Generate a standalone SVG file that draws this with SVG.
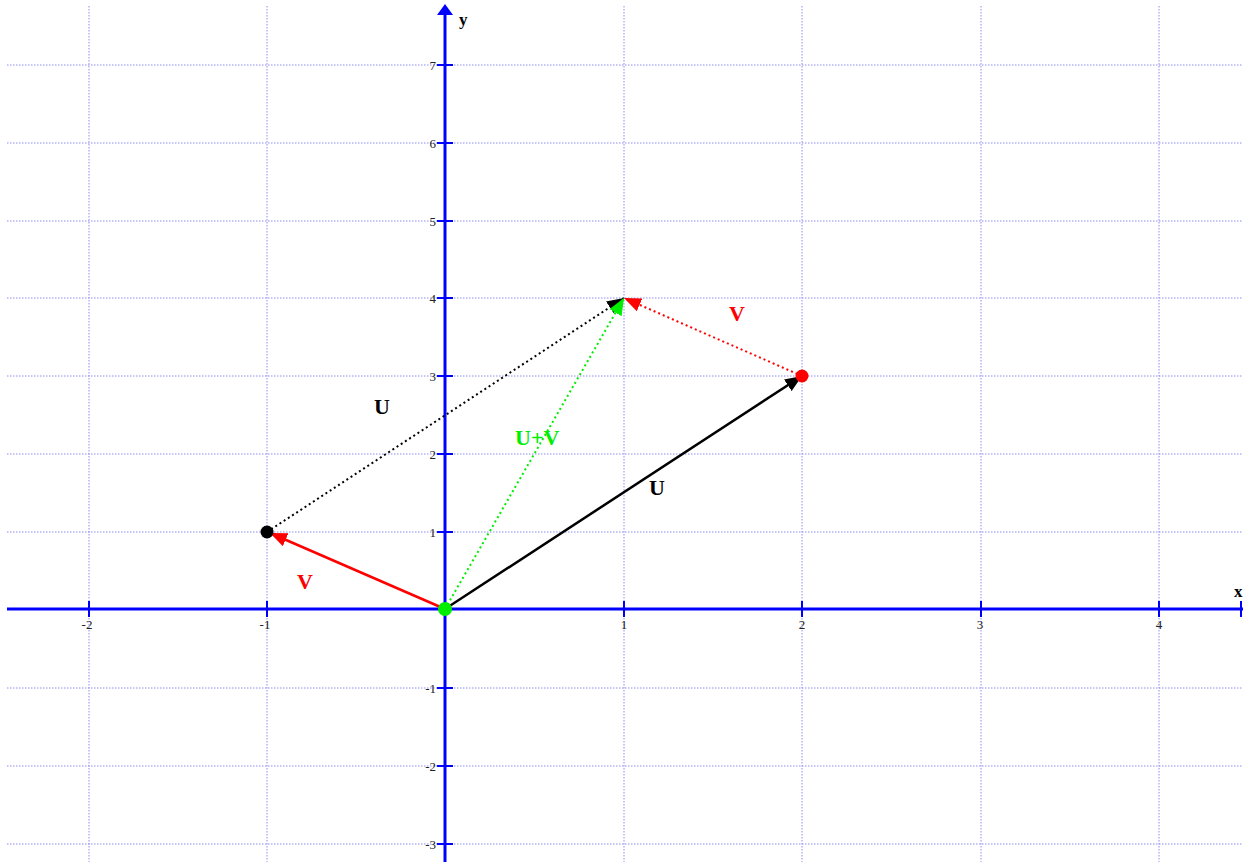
<svg xmlns="http://www.w3.org/2000/svg" width="1243" height="862" viewBox="0 0 1243 862">
<style>
.grid{stroke:#8c8cf0;stroke-width:1;stroke-dasharray:1.5 1.5;fill:none}
.axis{stroke:#0000ff;stroke-width:3;fill:none}
.tick{stroke:#0000ff;stroke-width:2}
.tl{font-family:"Liberation Serif",serif;font-size:13px;fill:#222}
.lbl{font-family:"Liberation Serif",serif;font-size:22px;font-weight:bold}
.ax{font-family:"Liberation Serif",serif;font-size:17px;font-weight:bold;fill:#000}
</style>
<defs>
<marker id="ak" markerUnits="userSpaceOnUse" markerWidth="18" markerHeight="14" refX="17" refY="7" orient="auto"><path d="M0,0 L17,7 L0,14 z" fill="#000"/></marker>
<marker id="ar" markerUnits="userSpaceOnUse" markerWidth="18" markerHeight="14" refX="17" refY="7" orient="auto"><path d="M0,0 L17,7 L0,14 z" fill="#ff0000"/></marker>
<marker id="ag" markerUnits="userSpaceOnUse" markerWidth="18" markerHeight="14" refX="17" refY="7" orient="auto"><path d="M0,0 L17,7 L0,14 z" fill="#00ee00"/></marker>
</defs>
<rect width="1243" height="862" fill="#fff"/>
<g id="grid" class="grid">
<path d="M89,6V862M267,6V862M624,6V862M802,6V862M981,6V862M1159,6V862"/>
<path d="M7,65H1243M7,143H1243M7,221H1243M7,298H1243M7,376H1243M7,454H1243M7,532H1243M7,688H1243M7,766H1243M7,844H1243"/>
</g>
<g id="axes">
<line class="axis" x1="7" y1="609" x2="1243" y2="609"/>
<line class="axis" x1="445" y1="14" x2="445" y2="862"/>
<path d="M437,15 L445,4 L453,15 z" fill="#0000ff"/>
<path class="tick" d="M89,601V617M267,601V617M624,601V617M802,601V617M981,601V617M1159,601V617M1241,601V617"/>
<path class="tick" d="M437,65H453M437,143H453M437,221H453M437,298H453M437,376H453M437,454H453M437,532H453M437,688H453M437,766H453M437,844H453"/>
<text class="ax" x="459" y="25">y</text>
<text class="ax" x="1234" y="597">x</text>
</g>
<g id="tick-labels" class="tl">
<text x="87" y="629" text-anchor="middle">-2</text>
<text x="265" y="629" text-anchor="middle">-1</text>
<text x="624" y="629" text-anchor="middle">1</text>
<text x="802" y="629" text-anchor="middle">2</text>
<text x="980" y="629" text-anchor="middle">3</text>
<text x="1159" y="629" text-anchor="middle">4</text>
<text x="436" y="70" text-anchor="end">7</text>
<text x="436" y="148" text-anchor="end">6</text>
<text x="436" y="226" text-anchor="end">5</text>
<text x="436" y="303" text-anchor="end">4</text>
<text x="436" y="381" text-anchor="end">3</text>
<text x="436" y="459" text-anchor="end">2</text>
<text x="436" y="537" text-anchor="end">1</text>
<text x="436" y="693" text-anchor="end">-1</text>
<text x="436" y="771" text-anchor="end">-2</text>
<text x="436" y="849" text-anchor="end">-3</text>
</g>
<g id="connectors" fill="none">
<line x1="267" y1="532" x2="624" y2="298" stroke="#000" stroke-width="2" stroke-dasharray="2 3" marker-end="url(#ak)"/>
<line x1="802" y1="376" x2="624" y2="298" stroke="#ff0000" stroke-width="2" stroke-dasharray="2 3" marker-end="url(#ar)"/>
<line x1="445" y1="609" x2="624" y2="298" stroke="#00ee00" stroke-width="2" stroke-dasharray="2 3" marker-end="url(#ag)"/>
<line x1="445" y1="609" x2="802" y2="376" stroke="#000" stroke-width="2.5" marker-end="url(#ak)"/>
<line x1="445" y1="609" x2="270" y2="533" stroke="#ff0000" stroke-width="2.5" marker-end="url(#ar)"/>
</g>
<g id="points">
<circle cx="267" cy="532" r="6.5" fill="#000"/>
<circle cx="802" cy="376" r="6.5" fill="#ff0000"/>
<circle cx="445" cy="609" r="7" fill="#00ee00"/>
</g>
<g id="labels">
<text class="lbl" x="729" y="321" fill="#ff0000">V</text>
<text class="lbl" x="374" y="414" fill="#000">U</text>
<text class="lbl" x="515" y="445" fill="#00ee00">U+V</text>
<text class="lbl" x="649" y="495" fill="#000">U</text>
<text class="lbl" x="297" y="589" fill="#ff0000">V</text>
</g>
</svg>
